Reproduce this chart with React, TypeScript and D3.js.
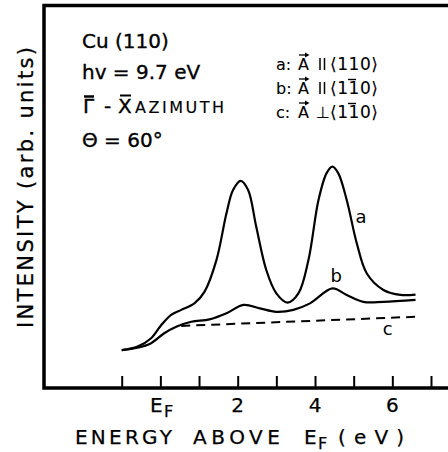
import React, { useEffect, useRef } from 'react';
import * as d3 from 'd3';

// curve a: A || <110>
const energyA = [-1, -0.59, -0.24, 0.02, 0.28, 0.54, 0.88, 1.14, 1.45, 1.71, 1.88, 2.08, 2.27, 2.48, 2.74, 3.0, 3.29, 3.57, 3.83, 4.09, 4.3, 4.45, 4.6, 4.82, 5.08, 5.34, 5.77, 6.21, 6.6];
const intensityA = [9.9, 10.8, 13.0, 16.4, 19.1, 20.4, 22.1, 25.1, 33.4, 45.6, 51.7, 54.1, 51.7, 42.1, 30.8, 24.7, 22.3, 24.7, 33.4, 49.1, 56.1, 57.8, 56.1, 49.1, 37.8, 29.9, 25.6, 24.3, 24.4];

// curve b: A || <1-10>
const energyB = [-1, -0.59, -0.24, 0.1, 0.41, 0.8, 1.27, 1.71, 2.15, 2.57, 3.0, 3.44, 3.87, 4.45, 4.82, 5.25, 5.77, 6.6];
const intensityB = [9.9, 10.5, 11.7, 14.3, 16.0, 17.3, 17.9, 19.5, 21.7, 20.8, 19.9, 20.4, 22.1, 26.0, 24.3, 22.5, 22.5, 23.0];

// curve c: A perp <1-10>
const energyC = [0.54, 6.6];
const intensityC = [16.2, 18.6];

const tickValues = [-1, 0, 1, 2, 3, 4, 5, 6, 7];
const labelTicks = [2, 4, 6];
const labelTexts = ['2', '4', '6'];

const FONT = '"DejaVu Sans", sans-serif';

const App = () => {
  const svgRef = useRef<SVGSVGElement>(null);

  useEffect(() => {
    const width = 448;
    const height = 452;
    const frame = { left: 44, top: 5.5, bottom: 388 };

    const svg = d3.select(svgRef.current);
    svg.selectAll('*').remove();
    svg.attr('width', width).attr('height', height);

    svg.append('rect').attr('width', width).attr('height', height).attr('fill', '#fff');

    const x = d3.scaleLinear().domain([-1, 7]).range([121.7, 431]);
    const y = d3.scaleLinear().domain([0, 100]).range([388, 5]);

    // frame
    svg.append('path')
      .attr('d', `M${width + 10},${frame.top}H${frame.left}V${frame.bottom}H${width + 10}`)
      .attr('fill', 'none')
      .attr('stroke', '#000')
      .attr('stroke-width', 3.5);

    // ticks pointing inward
    const axis = d3.axisBottom(x).tickValues(tickValues).tickSize(-12).tickFormat(() => '');
    const g = svg.append('g').attr('transform', `translate(0,${frame.bottom})`).call(axis);
    g.select('.domain').remove();
    g.selectAll('line').attr('stroke', '#000').attr('stroke-width', 2);

    const txt = (xx: number, yy: number, size: number, s: string, strokeW = 0.25) =>
      svg.append('text')
        .attr('x', xx)
        .attr('y', yy)
        .attr('font-family', FONT)
        .attr('font-size', size)
        .attr('stroke', '#000')
        .attr('stroke-width', strokeW)
        .text(s);

    // tick labels
    labelTicks.forEach((v, i) => {
      txt(x(v), 412, 20, labelTexts[i]).attr('text-anchor', 'middle');
    });
    txt(150, 412, 20, 'E');
    txt(164, 417, 16, 'F');

    // x axis title, word by word
    txt(75, 444, 20, 'ENERGY').attr('textLength', 97).attr('lengthAdjust', 'spacing');
    txt(193, 444, 20, 'ABOVE').attr('textLength', 87).attr('lengthAdjust', 'spacing');
    txt(304, 444, 20, 'E');
    txt(318, 449, 16, 'F');
    txt(338, 444, 20, '(eV)').attr('textLength', 66).attr('lengthAdjust', 'spacing');

    // y axis title
    svg.append('text')
      .attr('transform', 'translate(33,328) rotate(-90)')
      .attr('font-family', FONT)
      .attr('font-size', 21)
      .attr('stroke', '#000')
      .attr('stroke-width', 0.3)
      .attr('textLength', 281)
      .attr('lengthAdjust', 'spacing')
      .text('INTENSITY (arb. units)');

    // curves
    const line = d3.line<[number, number]>()
      .x(d => x(d[0]))
      .y(d => y(d[1]))
      .curve(d3.curveCatmullRom.alpha(0.5));

    const ptsA = energyA.map((e, i) => [e, intensityA[i]] as [number, number]);
    const ptsB = energyB.map((e, i) => [e, intensityB[i]] as [number, number]);
    const ptsC = energyC.map((e, i) => [e, intensityC[i]] as [number, number]);

    svg.append('path').attr('d', line(ptsA)).attr('fill', 'none').attr('stroke', '#000').attr('stroke-width', 2.2);
    svg.append('path').attr('d', line(ptsB)).attr('fill', 'none').attr('stroke', '#000').attr('stroke-width', 2.2);
    svg.append('path').attr('d', line(ptsC)).attr('fill', 'none').attr('stroke', '#000')
      .attr('stroke-width', 2).attr('stroke-dasharray', '9,6');

    txt(x(5.05), 223, 18, 'a', 0);
    txt(x(4.4), 282, 18, 'b', 0);
    txt(x(5.75), 335, 18, 'c', 0);

    // info block
    txt(82, 48, 20, 'Cu (110)', 0.35);
    txt(82, 79, 20, 'hv = 9.7 eV', 0.35);
    txt(82, 147, 20, 'Θ = 60°', 0.35);
    txt(83, 113, 20, 'Γ', 0.35);
    txt(104, 113, 20, '-', 0.35);
    txt(118, 113, 20, 'X', 0.35);
    svg.append('line').attr('x1', 84).attr('x2', 94).attr('y1', 96.5).attr('y2', 96.5).attr('stroke', '#000').attr('stroke-width', 2.5);
    svg.append('line').attr('x1', 120).attr('x2', 131).attr('y1', 95.5).attr('y2', 95.5).attr('stroke', '#000').attr('stroke-width', 2);
    txt(135, 113, 16, 'AZIMUTH', 0.15).attr('textLength', 89).attr('lengthAdjust', 'spacing');

    // legend
    const rows = [
      { key: 'a:', rel: 'II', dir: '⟨110⟩', bar: false, yy: 70 },
      { key: 'b:', rel: 'II', dir: '⟨110⟩', bar: true, yy: 94 },
      { key: 'c:', rel: '⊥', dir: '⟨110⟩', bar: true, yy: 118 }
    ];
    rows.forEach(r => {
      txt(276, r.yy, 16, r.key, 0.1);
      txt(298, r.yy, 16, 'A', 0.1);
      // arrow over A
      svg.append('line').attr('x1', 299).attr('x2', 308).attr('y1', r.yy - 15).attr('y2', r.yy - 15).attr('stroke', '#000').attr('stroke-width', 1.3);
      svg.append('path').attr('d', `M305,${r.yy - 17.5}L309.5,${r.yy - 15}L305,${r.yy - 12.5}Z`).attr('fill', '#000');
      if (r.rel === 'II') {
        svg.append('line').attr('x1', 320).attr('x2', 320).attr('y1', r.yy - 12).attr('y2', r.yy).attr('stroke', '#000').attr('stroke-width', 1.5);
        svg.append('line').attr('x1', 324.5).attr('x2', 324.5).attr('y1', r.yy - 12).attr('y2', r.yy).attr('stroke', '#000').attr('stroke-width', 1.5);
      } else {
        txt(316, r.yy, 16, '⊥', 0.1);
      }
      txt(330, r.yy, 17, r.dir, 0.1).attr('textLength', 48).attr('lengthAdjust', 'spacing');
      if (r.bar) {
        svg.append('line').attr('x1', 348).attr('x2', 356).attr('y1', r.yy - 14.5).attr('y2', r.yy - 14.5).attr('stroke', '#000').attr('stroke-width', 1.4);
      }
    });
  }, []);

  return <svg ref={svgRef} style={{ display: 'block', position: 'absolute', left: 0, top: 0 }}></svg>;
};

export default App;
